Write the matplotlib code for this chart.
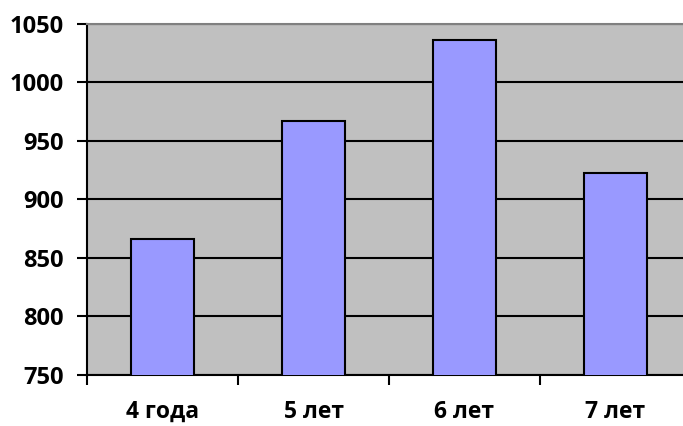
import numpy as np
import matplotlib.pyplot as plt

categories = ["4 года", "5 лет", "6 лет", "7 лет"]
values = [866, 967, 1036, 923]
y_ticks = [750, 800, 850, 900, 950, 1000, 1050]

plt.rcParams['font.family'] = ['Open Sans', 'DejaVu Sans']
plt.rcParams['font.weight'] = 'bold'

fig = plt.figure(figsize=(6.83, 4.26), dpi=100)
# plot area runs past the right edge, as in the original
ax = fig.add_axes([87/683, 51/426, 604/683, 351/426])
ax.set_facecolor('#C0C0C0')

x = np.arange(len(categories))
ax.bar(x, values, width=0.42, color='#9999FF', edgecolor='black', linewidth=1.5, zorder=3)

ax.set_xlim(-0.5, len(categories) - 0.5)
ax.set_ylim(750, 1050)
ax.set_yticks(y_ticks)
ax.yaxis.grid(True, color='black', linewidth=1.5, zorder=1)
ax.set_axisbelow(True)

# ticks at category boundaries, labels at centers
ax.set_xticks(np.arange(len(categories) + 1) - 0.5)
ax.set_xticklabels([])
ax.set_xticks(x, minor=True)
ax.set_xticklabels(categories, minor=True, fontsize=16.5, fontweight='bold')
ax.tick_params(axis='x', which='minor', length=0, pad=18)
ax.tick_params(axis='x', which='major', length=7, width=1.5, direction='out')
ax.tick_params(axis='y', length=7, width=1.5, direction='out', labelsize=17, pad=10)
for lab in ax.get_yticklabels():
    lab.set_fontweight('bold')

for s in ['left', 'bottom']:
    ax.spines[s].set_linewidth(1.5)
    ax.spines[s].set_color('black')
ax.spines['top'].set_color('#808080')
ax.spines['top'].set_linewidth(1.5)
ax.spines['right'].set_visible(False)

fig.savefig('out.png', dpi=100)
